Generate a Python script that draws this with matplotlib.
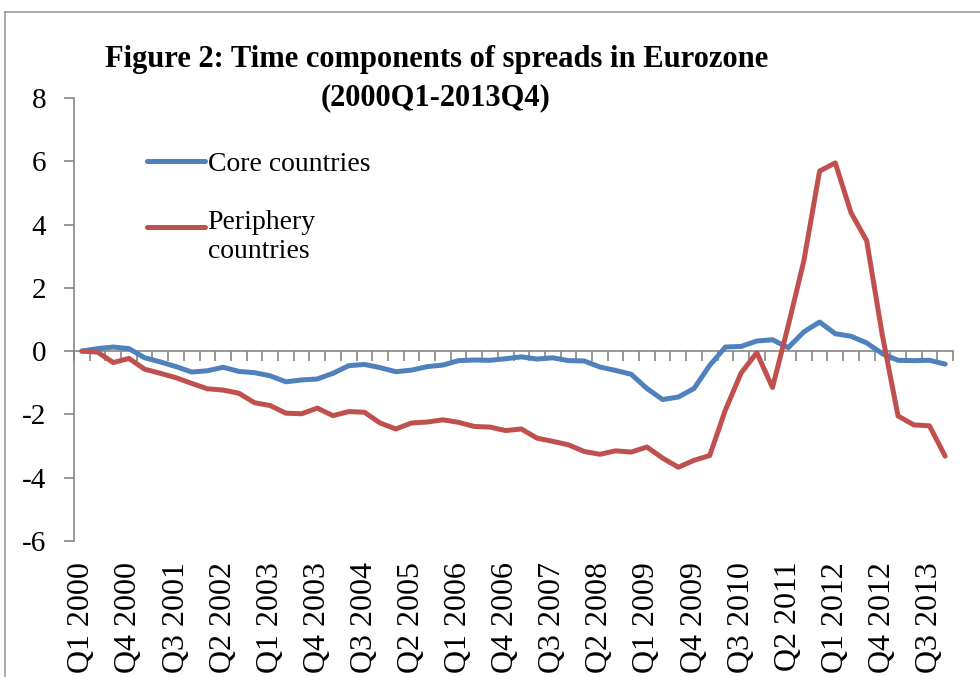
import numpy as np
import matplotlib
matplotlib.use('Agg')
import matplotlib.pyplot as plt
from matplotlib.lines import Line2D
from matplotlib.legend_handler import HandlerLine2D

# quarterly data 2000Q1 - 2013Q4
years = list(range(2000, 2014))
quarters = [f'Q{q} {y}' for y in years for q in range(1, 5)]

core = [0.00, 0.08, 0.13, 0.08, -0.21, -0.34, -0.49, -0.66,
        -0.62, -0.51, -0.64, -0.68, -0.78, -0.97, -0.91, -0.88,
        -0.70, -0.46, -0.42, -0.52, -0.65, -0.60, -0.49, -0.44,
        -0.30, -0.28, -0.29, -0.24, -0.18, -0.25, -0.21, -0.30,
        -0.31, -0.50, -0.61, -0.73, -1.18, -1.53, -1.45, -1.18,
        -0.45, 0.13, 0.15, 0.32, 0.36, 0.11, 0.61, 0.92,
        0.55, 0.47, 0.26, -0.08, -0.29, -0.30, -0.29, -0.41]

periphery = [0.00, -0.03, -0.36, -0.23, -0.57, -0.70, -0.84, -1.02,
             -1.19, -1.23, -1.33, -1.63, -1.72, -1.96, -1.98, -1.80,
             -2.04, -1.91, -1.93, -2.27, -2.46, -2.27, -2.24, -2.17,
             -2.25, -2.38, -2.40, -2.51, -2.46, -2.75, -2.85, -2.96,
             -3.17, -3.26, -3.15, -3.19, -3.03, -3.38, -3.67, -3.45,
             -3.30, -1.86, -0.69, -0.05, -1.15, 0.80, 2.86, 5.69,
             5.95, 4.38, 3.49, 0.50, -2.05, -2.33, -2.36, -3.32]

y_ticks = [-6, -4, -2, 0, 2, 4, 6, 8]

AXIS_GREY = '#868686'
BLUE = '#4F81BD'
RED = '#C0504D'
SERIF = ['Liberation Serif', 'DejaVu Serif']


class UpperLineHandler(HandlerLine2D):
    """legend line aligned with the first row of a two-line label"""
    def __init__(self, shift=0.0, **kw):
        super().__init__(**kw)
        self.shift = shift

    def create_artists(self, legend, orig_handle, xdescent, ydescent,
                       width, height, fontsize, trans):
        arts = super().create_artists(legend, orig_handle, xdescent, ydescent,
                                      width, height, fontsize, trans)
        for a in arts:
            a.set_ydata(np.asarray(a.get_ydata()) + self.shift * fontsize)
        return arts


plt.rcParams['font.family'] = SERIF

fig = plt.figure(figsize=(9.8, 6.77), dpi=100)
ax = fig.add_axes([74 / 980, 1 - 541 / 677, 879 / 980, 443 / 677])

x = np.arange(len(quarters))
l_core, = ax.plot(x, core, color=BLUE, linewidth=3.6, solid_joinstyle='round',
                  solid_capstyle='round', label='Core countries')
l_per, = ax.plot(x, periphery, color=RED, linewidth=3.6, solid_joinstyle='round',
                 solid_capstyle='round', label='Periphery\ncountries')

ax.set_xlim(-0.5, len(quarters) - 0.5)
ax.set_ylim(y_ticks[0], y_ticks[-1])

# y axis
ax.set_yticks(y_ticks)
ax.set_yticklabels([str(v) for v in y_ticks])
ax.tick_params(axis='y', direction='out', length=7, width=1.2, color=AXIS_GREY,
               labelsize=21, pad=13)
for s in ['top', 'right', 'bottom']:
    ax.spines[s].set_visible(False)
ax.spines['left'].set_color(AXIS_GREY)
ax.spines['left'].set_linewidth(1.2)

# category labels at the bottom, every third quarter
ax.set_xticks(x[::3])
ax.set_xticklabels(quarters[::3], rotation=90, va='top', ha='center')
ax.tick_params(axis='x', length=0, labelsize=23, pad=15)

# horizontal category axis at y = 0
zero_frac = (0 - y_ticks[0]) / (y_ticks[-1] - y_ticks[0])
sec = ax.secondary_xaxis(zero_frac)
sec.set_xticks(np.arange(len(quarters) + 1) - 0.5)
sec.set_xticklabels([])
sec.tick_params(axis='x', direction='out', length=7, width=1.2, color=AXIS_GREY)
sec.spines['bottom'].set_color(AXIS_GREY)
sec.spines['bottom'].set_linewidth(1.2)

leg = ax.legend(handles=[l_core, l_per], loc='upper left',
                bbox_to_anchor=(0.083, 0.88), frameon=False, fontsize=20,
                handlelength=2.1, handletextpad=0.08, labelspacing=1.2,
                borderpad=0, borderaxespad=0,
                handler_map={l_per: UpperLineHandler(shift=0.36)})

fig.text(0.446, 0.912, 'Figure 2: Time components of spreads in Eurozone',
         ha='center', va='center', fontsize=22, fontweight='bold')
fig.text(0.444, 0.855, '(2000Q1-2013Q4)', ha='center', va='center',
         fontsize=22, fontweight='bold')

# chart border (cropped at right and bottom)
fig.add_artist(Line2D([5 / 980, 1], [1 - 12 / 677, 1 - 12 / 677],
                      transform=fig.transFigure, color='#9a9a9a', linewidth=1.2))
fig.add_artist(Line2D([5 / 980, 5 / 980], [0, 1 - 12 / 677],
                      transform=fig.transFigure, color='#9a9a9a', linewidth=1.2))

fig.savefig('out.png', dpi=100)
plt.close(fig)
